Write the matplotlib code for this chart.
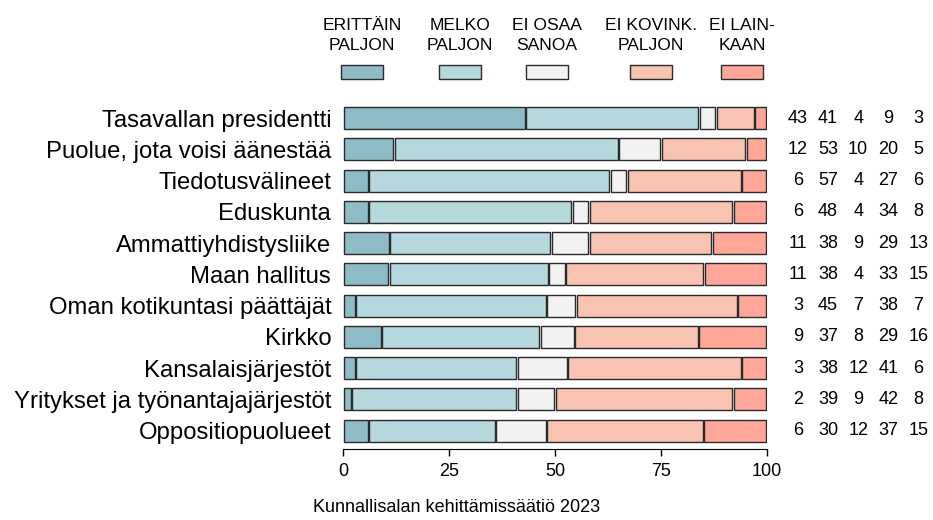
import matplotlib
matplotlib.use("Agg")
import matplotlib.pyplot as plt
from matplotlib.patches import Rectangle
import numpy as np

plt.rcParams['font.family'] = ['Liberation Sans', 'DejaVu Sans']

categories = ["Tasavallan presidentti", "Puolue, jota voisi äänestää", "Tiedotusvälineet",
              "Eduskunta", "Ammattiyhdistysliike", "Maan hallitus",
              "Oman kotikuntasi päättäjät", "Kirkko", "Kansalaisjärjestöt",
              "Yritykset ja työnantajajärjestöt", "Oppositiopuolueet"]
series_names = ["ERITTÄIN\nPALJON", "MELKO\nPALJON", "EI OSAA\nSANOA", "EI KOVINK.\nPALJON", "EI LAIN-\nKAAN"]
erittain = [43, 12, 6, 6, 11, 11, 3, 9, 3, 2, 6]
melko = [41, 53, 57, 48, 38, 38, 45, 37, 38, 39, 30]
eos = [4, 10, 4, 4, 9, 4, 7, 8, 12, 9, 12]
kovin = [9, 20, 27, 34, 29, 33, 38, 29, 41, 42, 37]
lainkaan = [3, 5, 6, 8, 13, 15, 7, 16, 6, 8, 15]
xticks = [0, 25, 50, 75, 100]
caption = "Kunnallisalan kehittämissäätiö 2023"

colors = ["#8fbbc7", "#b4d8db", "#f2f2f2", "#f8c3b0", "#fea697"]
series = [erittain, melko, eos, kovin, lainkaan]

W, H = 933, 520
fig = plt.figure(figsize=(W / 100, H / 100), dpi=100)
ax = fig.add_axes([343 / W, 1 - 449 / H, (767 - 343) / W, (449 - 100) / H])
n = len(categories)
ypos = np.arange(n)
ax.set_ylim(10.592, -0.576)
ax.set_xlim(0, 100)

# bars show shares of 100 % (labels are rounded values)
mat = np.array(series, dtype=float)
shares = mat / mat.sum(axis=0) * 100

gap = 0.35
left = np.zeros(n)
for v, col in zip(shares, colors):
    ax.barh(ypos, v - gap, left=left + gap / 2, height=0.704, color=col,
            edgecolor="#2a2a2a", linewidth=1.0)
    left += v

# numbers on the right
for i in range(n):
    for j, vals in enumerate(series):
        ax.text(107.3 + 7.1 * j, ypos[i], str(vals[i]), ha="center", va="center",
                fontsize=13, clip_on=False)

ax.set_yticks(ypos)
ax.set_yticklabels(categories, fontsize=17.2)
ax.tick_params(axis="y", length=0, pad=8.5)
ax.set_xticks(xticks)
ax.set_xticklabels([str(t) for t in xticks], fontsize=13)
ax.tick_params(axis="x", length=5, width=1, pad=5)
for s in ["top", "right", "left"]:
    ax.spines[s].set_visible(False)
ax.spines["bottom"].set_bounds(0, 100)

# legend
lx = [362, 460, 547, 651, 742]
for name, col, x in zip(series_names, colors, lx):
    l1, l2 = name.split("\n")
    fig.text(x / W, 1 - 25.5 / H, l1, ha="center", va="center", fontsize=12.6)
    fig.text(x / W, 1 - 46 / H, l2, ha="center", va="center", fontsize=12.6)
    fig.add_artist(Rectangle(((x - 21) / W, 1 - 79 / H), 42 / W, 14 / H,
                             facecolor=col, edgecolor="#2a2a2a", linewidth=1.0,
                             transform=fig.transFigure))

fig.text(457 / W, 1 - 508 / H, caption, ha="center", va="center", fontsize=13)

fig.savefig("out.png", dpi=100)
